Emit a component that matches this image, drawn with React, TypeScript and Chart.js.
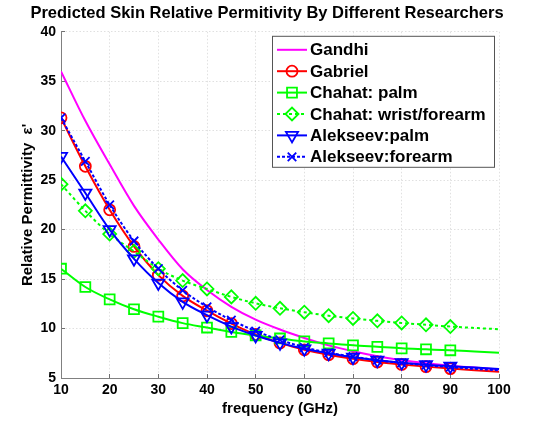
import React, { useEffect, useRef } from 'react';
import { Chart, registerables } from 'chart.js';
import { drawPoint } from 'chart.js/helpers';

Chart.register(...registerables);

// ---- data ----
const frequencies = [10, 15, 20, 25, 30, 35, 40, 45, 50, 55, 60, 65, 70, 75, 80, 85, 90, 95, 100];
const gandhi = [36.0, 31.0, 26.6, 22.4, 19.0, 16.0, 13.9, 12.2, 10.9, 9.9, 9.05, 8.3, 7.7, 7.2, 6.8, 6.5, 6.25, 6.05, 5.85];
const gabriel = [31.3, 26.4, 22.0, 18.3, 15.4, 13.3, 11.8, 10.5, 9.4, 8.55, 7.85, 7.35, 6.95, 6.62, 6.37, 6.15, 5.95, 5.78, 5.63];
const chahatPalm = [16.05, 14.2, 12.95, 11.95, 11.2, 10.55, 10.1, 9.65, 9.3, 9.0, 8.7, 8.5, 8.3, 8.15, 8.0, 7.9, 7.8, 7.68, 7.56];
const chahatWrist = [24.6, 21.9, 19.55, 17.8, 16.05, 14.85, 14.0, 13.2, 12.55, 12.05, 11.65, 11.3, 11.02, 10.78, 10.57, 10.38, 10.2, 10.06, 9.93];
const alekseevPalm = [27.4, 23.7, 20.0, 17.05, 14.6, 12.7, 11.35, 10.2, 9.3, 8.55, 7.95, 7.5, 7.1, 6.8, 6.55, 6.35, 6.2, 6.05, 5.92];
const alekseevForearm = [31.3, 26.9, 22.5, 18.85, 16.05, 13.85, 12.2, 10.85, 9.75, 8.85, 8.1, 7.55, 7.15, 6.8, 6.52, 6.3, 6.1, 5.93, 5.78];
const lastMarkerFreq = 90;

const seriesLabels = ['Gandhi', 'Gabriel', 'Chahat: palm', 'Chahat: wrist/forearm', 'Alekseev:palm', 'Alekseev:forearm'];
const xTickValues = [10, 20, 30, 40, 50, 60, 70, 80, 90, 100];
const yTickValues = [5, 10, 15, 20, 25, 30, 35, 40];

const titleText = 'Predicted Skin Relative Permitivity By Different Researchers';
const xTitle = 'frequency (GHz)';
const yTitle = "Relative Permittivity  \u03B5'";

const FONT = "'Liberation Sans', Arial, Helvetica, sans-serif";

type Style = {
  color: string;
  pointStyle: any;
  radius: number;
  rotation: number;
  dash: number[];
};

const styles: Style[] = [
  { color: '#ff00ff', pointStyle: false, radius: 0, rotation: 0, dash: [] },
  { color: '#ff0000', pointStyle: 'circle', radius: 5.5, rotation: 0, dash: [] },
  { color: '#00ff00', pointStyle: 'rect', radius: 7, rotation: 0, dash: [] },
  { color: '#00ff00', pointStyle: 'rectRot', radius: 6.5, rotation: 0, dash: [3, 3] },
  { color: '#0000ff', pointStyle: 'triangle', radius: 7, rotation: 180, dash: [] },
  { color: '#0000ff', pointStyle: 'crossRot', radius: 6, rotation: 0, dash: [3, 2] },
];

const seriesValues = [gandhi, gabriel, chahatPalm, chahatWrist, alekseevPalm, alekseevForearm];

const boxLegend = {
  id: 'boxLegend',
  afterDatasetsDraw(chart: any) {
    const { ctx, chartArea } = chart;
    const left = chartArea.left + 211;
    const top = chartArea.top + 4;
    const w = 222;
    const h = 131;
    ctx.save();
    ctx.fillStyle = '#ffffff';
    ctx.fillRect(left, top, w, h);
    ctx.strokeStyle = '#555555';
    ctx.lineWidth = 1;
    ctx.strokeRect(left + 0.5, top + 0.5, w, h);
    ctx.font = `bold 17px ${FONT}`;
    ctx.textBaseline = 'middle';
    ctx.textAlign = 'left';
    seriesLabels.forEach((label, i) => {
      const st = styles[i];
      const y = top + 14 + i * 21.4;
      ctx.save();
      ctx.strokeStyle = st.color;
      ctx.lineWidth = 2;
      ctx.setLineDash(st.dash);
      ctx.beginPath();
      ctx.moveTo(left + 5, y);
      ctx.lineTo(left + 35, y);
      ctx.stroke();
      ctx.setLineDash([]);
      if (st.pointStyle) {
        ctx.fillStyle = 'rgba(0,0,0,0)';
        ctx.strokeStyle = st.color;
        ctx.lineWidth = 1.8;
        drawPoint(ctx, { pointStyle: st.pointStyle, rotation: st.rotation, radius: st.radius, borderWidth: 1.8 } as any, left + 20, y);
      }
      ctx.restore();
      ctx.fillStyle = '#000000';
      ctx.fillText(label, left + 38, y + 1);
    });
    ctx.restore();
  },
};

export default function App() {
  const canvasRef = useRef<HTMLCanvasElement | null>(null);

  useEffect(() => {
    if (!canvasRef.current) return;
    Chart.defaults.font.family = FONT;

    const datasets = seriesLabels.map((label, i) => {
      const st = styles[i];
      return {
        label,
        data: frequencies.map((f, j) => ({ x: f, y: seriesValues[i][j] })),
        borderColor: st.color,
        backgroundColor: 'rgba(0,0,0,0)',
        borderWidth: 2,
        borderDash: st.dash,
        fill: false,
        cubicInterpolationMode: 'monotone' as const,
        pointStyle: st.pointStyle,
        pointRotation: st.rotation,
        pointRadius: (c: any) => (frequencies[c.dataIndex] <= lastMarkerFreq ? st.radius : 0),
        pointBorderColor: st.color,
        pointBackgroundColor: 'rgba(0,0,0,0)',
        pointBorderWidth: 1.8,
        order: seriesLabels.length - i,
      };
    });

    const gridOpts = {
      color: 'rgba(0,0,0,0.12)',
      lineWidth: 1,
      drawTicks: true,
      tickLength: -4,
      tickColor: '#707070',
      tickBorderDash: [],
    };

    const chart = new Chart(canvasRef.current, {
      type: 'line',
      data: { datasets },
      options: {
        animation: false,
        responsive: false,
        events: [],
        layout: { padding: { left: 0, right: 10, top: 0, bottom: 0 } },
        plugins: {
          legend: { display: false },
          tooltip: { enabled: false },
          title: {
            display: true,
            text: titleText,
            color: '#000000',
            font: { family: FONT, size: 16.5, weight: 'bold' },
            padding: { top: 4, bottom: 8 },
          },
        },
        scales: {
          x: {
            type: 'linear',
            min: 10,
            max: 100,
            afterBuildTicks: (s: any) => {
              s.ticks = xTickValues.map((v) => ({ value: v }));
            },
            ticks: {
              color: '#000000',
              font: { family: FONT, size: 14, weight: 'bold' },
              padding: 8,
              maxRotation: 0,
              autoSkip: false,
            },
            grid: gridOpts,
            border: { display: true, color: '#808080', width: 1, dash: [1.5, 2] },
            title: {
              display: true,
              text: xTitle,
              color: '#000000',
              font: { family: FONT, size: 15, weight: 'bold' },
              padding: { top: 0, bottom: 4 },
            },
            afterFit: (s: any) => {
              s.height = 44;
            },
          },
          y: {
            type: 'linear',
            min: 5,
            max: 40,
            afterBuildTicks: (s: any) => {
              s.ticks = yTickValues.map((v) => ({ value: v }));
            },
            ticks: {
              color: '#000000',
              font: { family: FONT, size: 14, weight: 'bold' },
              padding: 9,
              autoSkip: false,
            },
            grid: gridOpts,
            border: { display: true, color: '#808080', width: 1, dash: [1.5, 2] },
            title: {
              display: true,
              text: yTitle,
              color: '#000000',
              font: { family: FONT, size: 15, weight: 'bold' },
              padding: { top: 19, bottom: 0 },
            },
            afterFit: (s: any) => {
              s.width = 61;
            },
          },
          yRight: {
            type: 'linear',
            position: 'right',
            display: true,
            grid: { display: false },
            ticks: { display: false },
            border: { display: false },
            afterFit: (s: any) => {
              s.width = 35;
            },
          },
        },
      },
      plugins: [boxLegend],
    } as any);

    return () => {
      chart.destroy();
    };
  }, []);

  return (
    <div style={{ position: 'absolute', left: 0, top: 0, width: 544, height: 422, background: '#ffffff' }}>
      <canvas ref={canvasRef} width={544} height={422} style={{ display: 'block', width: 544, height: 422 }} />
    </div>
  );
}
